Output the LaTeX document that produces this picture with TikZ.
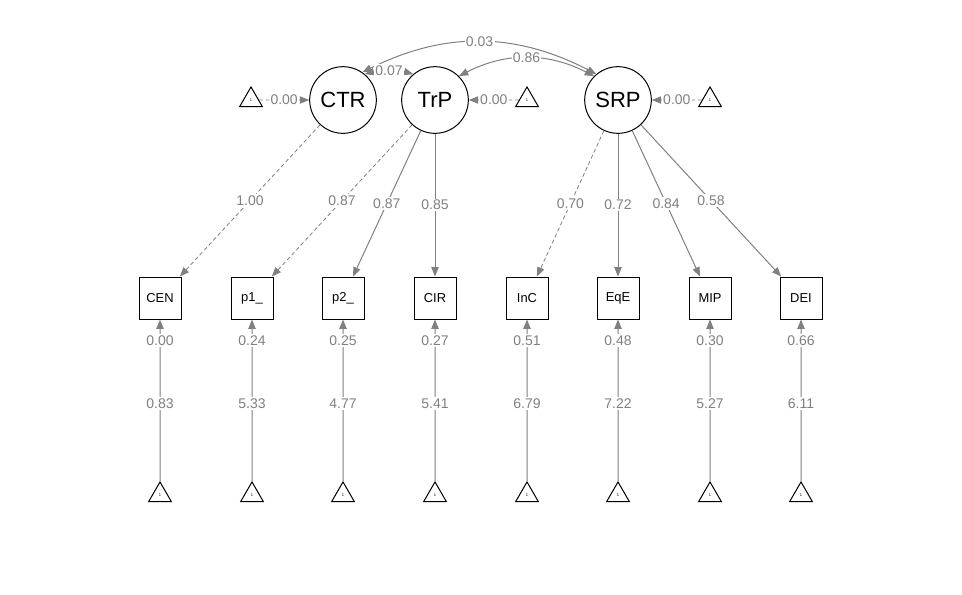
\documentclass[tikz,border=0pt]{standalone}
\usepackage{fontspec}
\setmainfont{Liberation Sans}
\usetikzlibrary{shapes.geometric,arrows.meta}

\begin{document}
\begin{tikzpicture}[x=0.75pt, y=-0.75pt,
        lat/.style={circle, draw, line width=0.75pt, minimum size=50pt, inner sep=0pt, font=\fontsize{16.5}{18}\selectfont},
        man/.style={rectangle, draw, line width=0.75pt, minimum size=31.5pt, inner sep=0pt, font=\fontsize{9.7}{11}\selectfont},
        tri/.style={regular polygon, regular polygon sides=3, draw, line width=0.75pt, minimum size=19.6pt, inner sep=0pt, font=\fontsize{3}{3}\selectfont},
        ed/.style={draw=gray, line width=0.75pt, -{Triangle[length=7pt, width=5.5pt]}},
        fix/.style={ed, line width=0.6pt, dash pattern=on 3pt off 2pt},
        cov/.style={draw=gray, line width=0.75pt, {Triangle[length=7pt, width=5.5pt]}-{Triangle[length=7pt, width=5.5pt]}},
        lab/.style={fill=white, text=gray, inner sep=1pt, font=\fontsize{10.5}{12}\selectfont}]
        \useasboundingbox (0,0) rectangle (962,594);
        % latent variables
        \node[lat] (CTR) at (343,100) {CTR};
        \node[lat] (TrP) at (435,100) {TrP};
        \node[lat] (SRP) at (618,100) {SRP};
        \node[tri] (tCTR) at (251,100) {1};
        \node[tri] (tTrP) at (527,100) {1};
        \node[tri] (tSRP) at (710,100) {1};
        % indicators
        \node[man] (CEN) at (160,298) {CEN};
        \node[man] (p1) at (252,298) {p1\_};
        \node[man] (p2) at (343,298) {p2\_};
        \node[man] (CIR) at (435,298) {CIR};
        \node[man] (InC) at (527,298) {InC};
        \node[man] (EqE) at (618,298) {EqE};
        \node[man] (MIP) at (710,298) {MIP};
        \node[man] (DEI) at (801,298) {DEI};
        \node[tri] (tCEN) at (160,495) {1};
        \node[tri] (tp1) at (252,495) {1};
        \node[tri] (tp2) at (343,495) {1};
        \node[tri] (tCIR) at (435,495) {1};
        \node[tri] (tInC) at (527,495) {1};
        \node[tri] (tEqE) at (618,495) {1};
        \node[tri] (tMIP) at (710,495) {1};
        \node[tri] (tDEI) at (801,495) {1};
        % loadings
        \draw[fix] (CTR) -- (CEN) node[lab, midway] {1.00};
        \draw[fix] (TrP) -- (p1) node[lab, midway] {0.87};
        \draw[ed] (TrP) -- (p2) node[lab, midway] {0.87};
        \draw[ed] (TrP) -- (CIR) node[lab, midway] {0.85};
        \draw[fix] (SRP) -- (InC) node[lab, midway] {0.70};
        \draw[ed] (SRP) -- (EqE) node[lab, midway] {0.72};
        \draw[ed] (SRP) -- (MIP) node[lab, midway] {0.84};
        \draw[ed] (SRP) -- (DEI) node[lab, midway] {0.58};
        % intercepts
        \draw[fix] (tCTR) -- (CTR) node[lab, midway] {0.00};
        \draw[fix] (tTrP) -- (TrP) node[lab, midway] {0.00};
        \draw[fix] (tSRP) -- (SRP) node[lab, midway] {0.00};
        \draw[ed] (tCEN) -- (CEN) node[lab, pos=0.87] {0.00} node[lab, pos=0.48] {0.83};
        \draw[ed] (tp1) -- (p1) node[lab, pos=0.87] {0.24} node[lab, pos=0.48] {5.33};
        \draw[ed] (tp2) -- (p2) node[lab, pos=0.87] {0.25} node[lab, pos=0.48] {4.77};
        \draw[ed] (tCIR) -- (CIR) node[lab, pos=0.87] {0.27} node[lab, pos=0.48] {5.41};
        \draw[ed] (tInC) -- (InC) node[lab, pos=0.87] {0.51} node[lab, pos=0.48] {6.79};
        \draw[ed] (tEqE) -- (EqE) node[lab, pos=0.87] {0.48} node[lab, pos=0.48] {7.22};
        \draw[ed] (tMIP) -- (MIP) node[lab, pos=0.87] {0.30} node[lab, pos=0.48] {5.27};
        \draw[ed] (tDEI) -- (DEI) node[lab, pos=0.87] {0.66} node[lab, pos=0.48] {6.11};
        % covariances
        \draw[cov] (CTR.55) to[bend left=27] node[lab, midway] {0.03} (SRP.130);
        \draw[cov] (TrP.45) to[bend left=27] node[lab, midway] {0.86} (SRP.135);
        \draw[cov] (CTR.50) to[bend left=15] node[lab, midway] {0.07} (TrP.130);
    \end{tikzpicture}
\end{document}
